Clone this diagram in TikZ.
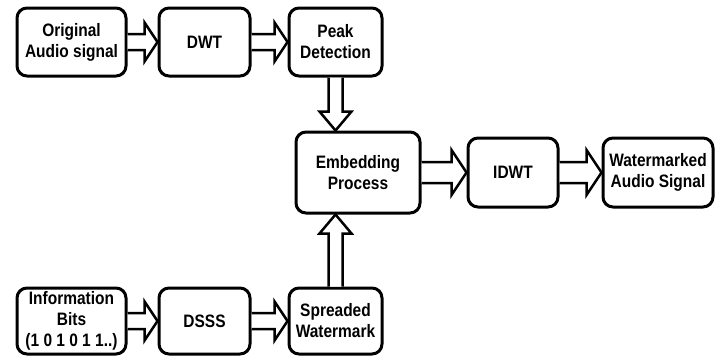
\documentclass[tikz,border=0pt]{standalone}
\usepackage{fontspec}
\setmainfont{Liberation Sans}[FakeStretch=0.86]
\usetikzlibrary{calc}

\tikzset{
  box/.style={draw, line width=3pt, rounded corners=10pt, align=center,
    inner sep=0pt, font=\bfseries\fontsize{18}{21}\selectfont},
  blockarr/.style={draw, line width=2.5pt, fill=white, line join=miter}
}

% hollow block arrows: #1 source node, #2 target node,
% #3 half shaft width, #4 half head width, #5 head length
\newcommand\blockright[5]{%
  \draw[blockarr] let \p1=(#1.east), \p2=(#2.west) in
    (\x1,\y1+#3pt) -- (\x2-#5pt,\y1+#3pt) -- (\x2-#5pt,\y1+#4pt) -- (\x2,\y1)
    -- (\x2-#5pt,\y1-#4pt) -- (\x2-#5pt,\y1-#3pt) -- (\x1,\y1-#3pt);}
\newcommand\blockdown[5]{%
  \draw[blockarr] let \p1=(#1.south), \p2=(#2.north) in
    (\x1-#3pt,\y1) -- (\x1-#3pt,\y2+#5pt) -- (\x1-#4pt,\y2+#5pt) -- (\x1,\y2)
    -- (\x1+#4pt,\y2+#5pt) -- (\x1+#3pt,\y2+#5pt) -- (\x1+#3pt,\y1);}
\newcommand\blockup[5]{%
  \draw[blockarr] let \p1=(#1.north), \p2=(#2.south) in
    (\x1-#3pt,\y1) -- (\x1-#3pt,\y2-#5pt) -- (\x1-#4pt,\y2-#5pt) -- (\x1,\y2)
    -- (\x1+#4pt,\y2-#5pt) -- (\x1+#3pt,\y2-#5pt) -- (\x1+#3pt,\y1);}

\begin{document}
\begin{tikzpicture}[x=1pt,y=1pt]
  \useasboundingbox (0,0) rectangle (719,360);

  % top row
  \node[box, minimum width=109pt, minimum height=68pt] (orig) at (71.5,318) {Original\\Audio signal};
  \node[box, minimum width=91pt, minimum height=68pt] (dwt) at (204.5,318) {DWT};
  \node[box, minimum width=93pt, minimum height=68pt] (peak) at (335.5,318) {Peak\\Detection};

  % middle row
  \node[box, minimum width=124pt, minimum height=81pt] (embed) at (358,187.5) {Embedding\\Process};
  \node[box, minimum width=90pt, minimum height=69pt] (idwt) at (513,187.5) {IDWT};
  \node[box, minimum width=110pt, minimum height=69pt] (wm) at (658,187.5) {Watermarked\\Audio Signal};

  % bottom row
  \node[box, minimum width=109pt, minimum height=66pt] (info) at (71.5,39) {Information\\Bits\\(1 0 1 0 1 1..)};
  \node[box, minimum width=91pt, minimum height=66pt] (dsss) at (204.5,39) {DSSS};
  \node[box, minimum width=93pt, minimum height=66pt] (spread) at (335.5,39) {Spreaded\\Watermark};

  % connectors
  \blockright{orig}{dwt}{8}{19.5}{13}
  \blockright{dwt}{peak}{8}{19.5}{13}
  \blockdown{peak}{embed}{7}{16}{19}
  \blockup{spread}{embed}{7}{16}{19}
  \blockright{embed}{idwt}{10.5}{22.5}{15}
  \blockright{idwt}{wm}{10.5}{22.5}{15}
  \blockright{info}{dsss}{8}{19.5}{13}
  \blockright{dsss}{spread}{8}{19.5}{13}
\end{tikzpicture}
\end{document}
